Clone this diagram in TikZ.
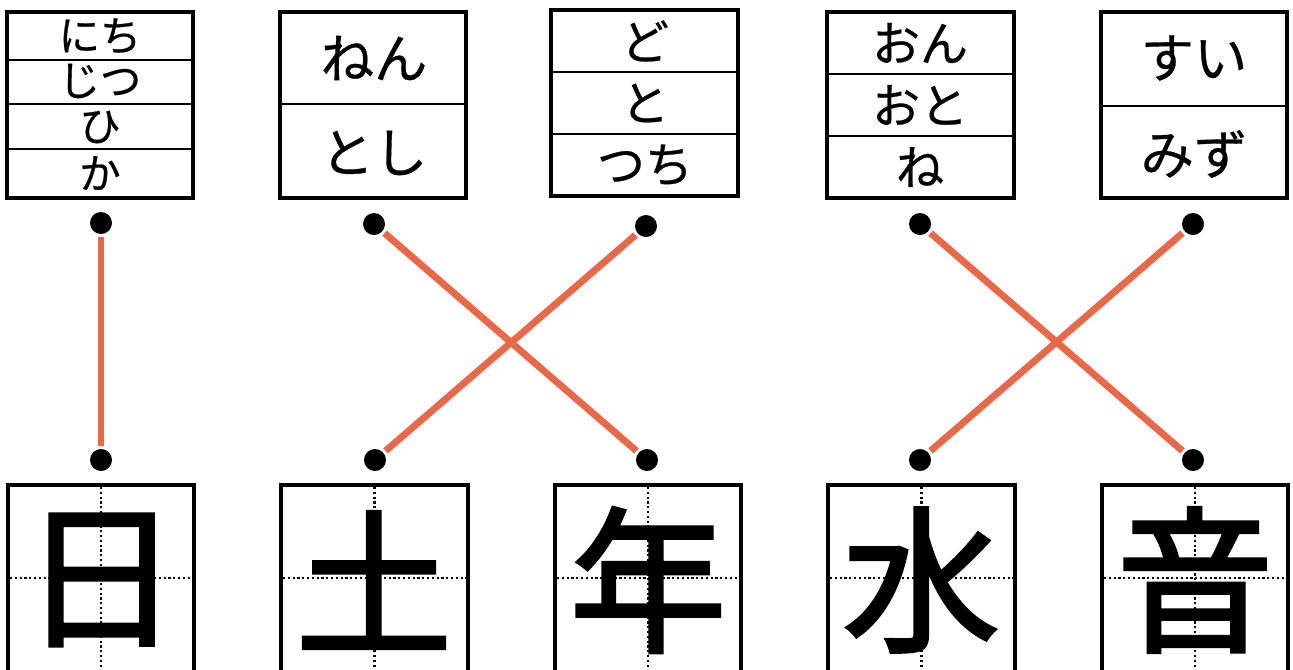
\documentclass[tikz,border=0pt]{standalone}
\usepackage{fontspec}
\newfontfamily\jp{Noto Sans CJK JP}[FakeBold=0.6]
\newfontfamily\jpk{Noto Sans CJK JP}[FakeBold=2]
\definecolor{conncol}{HTML}{E8694A}
\tikzset{
  card/.style={draw=black, line width=2.4pt, fill=white},
  divline/.style={draw=black, line width=1.3pt},
  dotnode/.style={circle, fill=black, inner sep=0pt, minimum size=16.5pt},
  conn/.style={draw=conncol, line width=5.2pt, shorten <=2pt, shorten >=2pt},
  grid/.style={draw=black, line width=1.7pt, dash pattern=on 1.7pt off 1.9pt},
  kana/.style={inner sep=0pt},
  kanji/.style={font=\jpk\fontsize{118}{118}\selectfont, inner sep=0pt},
}
\begin{document}
\begin{tikzpicture}[x=0.75pt,y=-0.75pt]
\useasboundingbox (0,0) rectangle (1293,669);
\clip (0,0) rectangle (1293,669);
% top card 1
\draw[card] (7,12) rectangle (193,198);
\draw[divline] (7,60) -- (193,60) (7,104) -- (193,104) (7,149) -- (193,149);
\node[kana, font=\jp\fontsize{31}{31}\selectfont] (r11) at (100,36) {にち};
\node[kana, font=\jp\fontsize{31}{31}\selectfont] (r12) at (100,81) {じつ};
\node[kana, font=\jp\fontsize{31}{31}\selectfont] (r13) at (100,127) {ひ};
\node[kana, font=\jp\fontsize{31}{31}\selectfont] (r14) at (100,173) {か};
% top card 2
\draw[card] (280,12) rectangle (466,198);
\draw[divline] (280,104) -- (466,104);
\node[kana, font=\jp\fontsize{40}{40}\selectfont] (r21) at (374,58) {ねん};
\node[kana, font=\jp\fontsize{40}{40}\selectfont] (r22) at (374,153) {とし};
% top card 3
\draw[card] (551,10) rectangle (738,196);
\draw[divline] (551,72) -- (738,72) (551,134) -- (738,134);
\node[kana, font=\jp\fontsize{36}{36}\selectfont] (r31) at (645,41) {ど};
\node[kana, font=\jp\fontsize{36}{36}\selectfont] (r32) at (645,103) {と};
\node[kana, font=\jp\fontsize{36}{36}\selectfont] (r33) at (645,165) {つち};
% top card 4
\draw[card] (827,12) rectangle (1014,198);
\draw[divline] (827,74) -- (1014,74) (827,136) -- (1014,136);
\node[kana, font=\jp\fontsize{36}{36}\selectfont] (r41) at (920,43) {おん};
\node[kana, font=\jp\fontsize{36}{36}\selectfont] (r42) at (920,105) {おと};
\node[kana, font=\jp\fontsize{36}{36}\selectfont] (r43) at (920,167) {ね};
% top card 5
\draw[card] (1101,12) rectangle (1287,198);
\draw[divline] (1101,106) -- (1287,106);
\node[kana, font=\jp\fontsize{40}{40}\selectfont] (r51) at (1194,58) {すい};
\node[kana, font=\jp\fontsize{40}{40}\selectfont] (r52) at (1194,154) {みず};
% bottom cards
\foreach \xa/\xb in {8/194, 281/468, 555/741, 828/1015, 1102/1288}{
  \draw[card] (\xa,485) rectangle (\xb,720);
  \draw[grid] ({(\xa+\xb)/2},487) -- ({(\xa+\xb)/2},669);
  \draw[grid] (\xa+2,578) -- (\xb-2,578);
}
\node[kanji] (k1) at (101,580) {日};
\node[kanji] (k2) at (374,580) {土};
\node[kanji] (k3) at (648,580) {年};
\node[kanji] (k4) at (921,580) {水};
\node[kanji] (k5) at (1195,580) {音};
% dots
\node[dotnode] (t1) at (101,223) {};
\node[dotnode] (t2) at (374,224) {};
\node[dotnode] (t3) at (646,226) {};
\node[dotnode] (t4) at (920,224) {};
\node[dotnode] (t5) at (1193,224) {};
\node[dotnode] (b1) at (101,460) {};
\node[dotnode] (b2) at (375,460) {};
\node[dotnode] (b3) at (647,460) {};
\node[dotnode] (b4) at (920,460) {};
\node[dotnode] (b5) at (1193,460) {};
% connectors
\draw[conn] (t1) -- (b1);
\draw[conn] (t2) -- (b3);
\draw[conn] (t3) -- (b2);
\draw[conn] (t4) -- (b5);
\draw[conn] (t5) -- (b4);
\end{tikzpicture}
\end{document}
